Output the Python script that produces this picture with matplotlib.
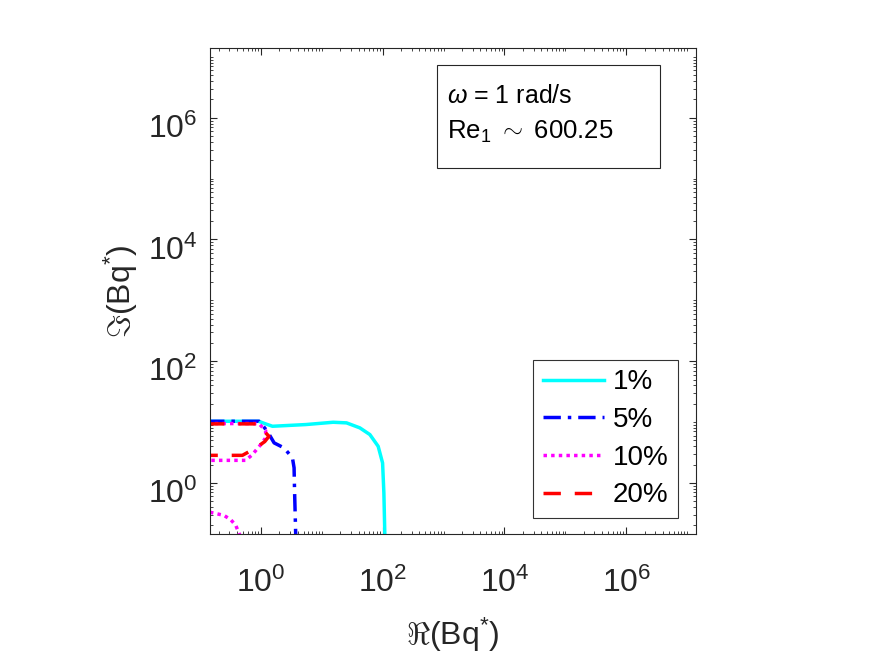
import numpy as np
import matplotlib
matplotlib.use("Agg")
import matplotlib.pyplot as plt
import matplotlib.transforms as mtransforms
from matplotlib.ticker import FixedLocator, LogLocator, NullFormatter, LogFormatterSciNotation
from matplotlib.patches import Rectangle

plt.rcParams['font.family'] = ['Liberation Sans', 'DejaVu Sans']
plt.rcParams['mathtext.fontset'] = 'custom'
plt.rcParams['mathtext.rm'] = 'Liberation Sans'
plt.rcParams['mathtext.it'] = 'Liberation Sans:italic'
plt.rcParams['mathtext.bf'] = 'Liberation Sans:bold'

# ---- data ----
x_1pct = [0.13, 0.92, 1.15, 1.54, 5.43, 15.3, 25.4, 42.0, 61.4, 84.0, 99.3, 104.3, 108.3]
y_1pct = [10.3, 10.3, 9.45, 8.53, 9.1, 9.93, 9.7, 8.03, 6.23, 4.0, 2.13, 0.685, 0.13]

x_5pct = [0.13, 0.93, 1.27, 1.64, 2.39, 3.28, 3.49, 3.55, 3.72]
y_5pct = [10.3, 10.3, 7.06, 4.55, 3.76, 2.58, 1.77, 0.78, 0.13]

x_10pct_a = [0.13, 0.92, 1.19, 1.19, 0.99, 0.72, 0.56, 0.13]
y_10pct_a = [9.45, 9.45, 7.25, 5.5, 4.27, 2.92, 2.35, 2.35]
x_10pct_b = [0.145, 0.246, 0.318, 0.384, 0.46]
y_10pct_b = [0.33, 0.293, 0.249, 0.201, 0.13]

x_20pct_a = [0.13, 0.88, 0.99, 1.35, 1.15, 0.82, 0.494, 0.13]
y_20pct_a = [9.34, 9.34, 8.03, 5.84, 4.78, 3.76, 2.84, 2.84]

labels = ['1%', '5%', '10%', '20%']
colors = ['#00FFFF', '#0000FF', '#FF00FF', '#FF0000']

major_ticks = [1e0, 1e2, 1e4, 1e6]
xlim = (0.145, 1.4e7)
ylim = (0.145, 1.4e7)

fig = plt.figure(figsize=(8.75, 6.56), dpi=100)
ax = fig.add_axes([0.24, 0.186, 0.5554, 0.7409])

lw = 2.5
ax.plot(x_1pct, y_1pct, color=colors[0], lw=lw, ls='-', label=labels[0])
ax.plot(x_5pct, y_5pct, color=colors[1], lw=lw, ls=(0, (5, 2, 1, 2)), label=labels[1])
ax.plot(x_10pct_a, y_10pct_a, color=colors[2], lw=lw, ls=(0, (1, 1.2)), label=labels[2])
ax.plot(x_10pct_b, y_10pct_b, color=colors[2], lw=lw, ls=(0, (1, 1.2)))
ax.plot(x_20pct_a, y_20pct_a, color=colors[3], lw=lw, ls=(0, (5, 4)), label=labels[3])

ax.set_xscale('log')
ax.set_yscale('log')
ax.set_xlim(*xlim)
ax.set_ylim(*ylim)

dark = '#262626'
minor_vals = [m * 10.0 ** e for e in range(-1, 8) for m in range(1, 10)]
minor_vals = [v for v in minor_vals if xlim[0] <= v <= xlim[1] and v not in major_ticks]
for axis in (ax.xaxis, ax.yaxis):
    axis.set_major_locator(FixedLocator(major_ticks))
    axis.set_major_formatter(LogFormatterSciNotation())
    axis.set_minor_locator(FixedLocator(minor_vals))
    axis.set_minor_formatter(NullFormatter())
ax.tick_params(which='both', direction='in', top=True, right=True, colors=dark, labelcolor=dark)
ax.tick_params(which='major', length=5, width=0.8, labelsize=23)
ax.tick_params(axis='x', which='major', pad=24)
ax.tick_params(axis='y', which='major', pad=9)
ax.tick_params(which='minor', length=2.5, width=0.6)
for s in ax.spines.values():
    s.set_color(dark)
    s.set_linewidth(0.8)

# shift y tick labels slightly down (as in the reference)
off = mtransforms.ScaledTranslation(0, -8 / 100, fig.dpi_scale_trans)
for lab in ax.get_yticklabels():
    lab.set_transform(lab.get_transform() + off)

ax.set_xlabel(r'$\Re$(Bq$^{*}$)', fontsize=23, color=dark, labelpad=12)
ax.set_ylabel(r'$\Im$(Bq$^{*}$)', fontsize=23, color=dark, labelpad=6)

leg = ax.legend(loc='lower right', bbox_to_anchor=(0.963, 0.033), borderaxespad=0,
                fontsize=20, frameon=True, fancybox=False, edgecolor='black',
                handlelength=2.2, handletextpad=0.3, labelspacing=0.42,
                borderpad=0.35)
leg.get_frame().set_linewidth(0.8)

ax.add_patch(Rectangle((0.468, 0.752), 0.458, 0.213, transform=ax.transAxes,
                       fill=False, edgecolor=dark, linewidth=0.8, zorder=5))
ax.text(0.487, 0.8875, r'$\omega$ = 1 rad/s', transform=ax.transAxes,
        fontsize=18, va='baseline', ha='left', color='black')
ax.text(0.487, 0.814, r'Re$_{\mathregular{1}}$ $\sim$ 600.25', transform=ax.transAxes,
        fontsize=18.5, va='baseline', ha='left', color='black')

fig.savefig('out.png', dpi=100, facecolor='white')
